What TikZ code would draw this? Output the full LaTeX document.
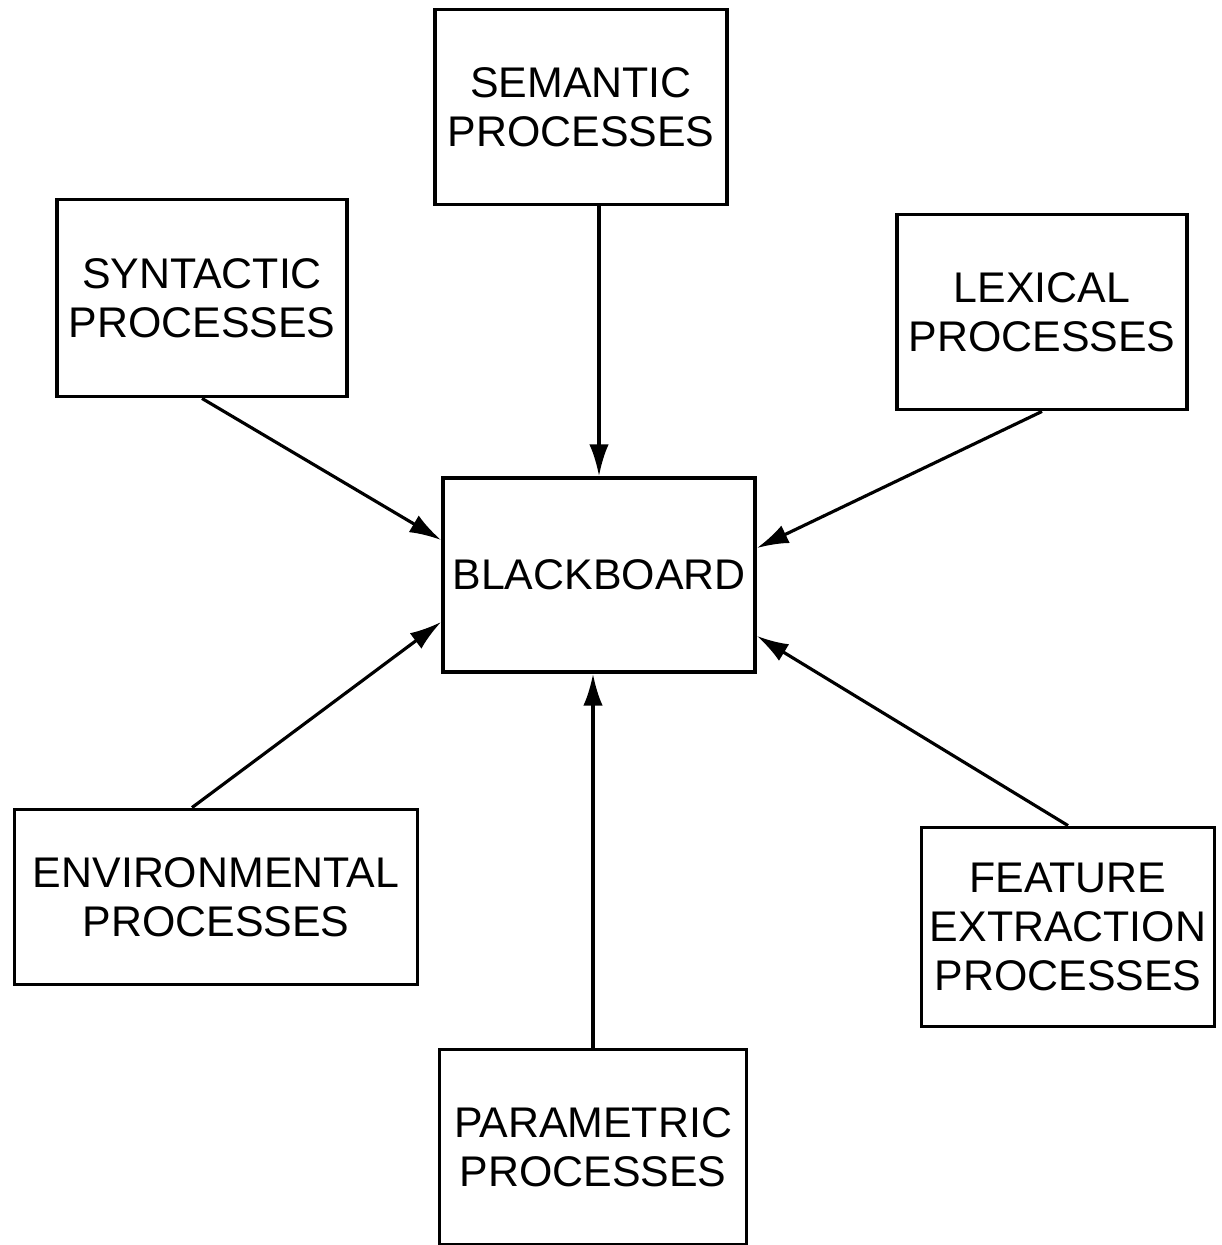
\documentclass[tikz,border=0pt]{standalone}
\usepackage{fontspec}
\setmainfont{Liberation Sans}
\usetikzlibrary{arrows.meta}
\tikzset{
  proc/.style = {
    draw, line width=1.1pt, align=center, inner sep=0pt,
    font=\fontsize{12.2}{14}\selectfont
  },
  feed/.style = {line width=0.9pt, -{Latex[length=9pt,width=5.5pt]}}
}

\begin{document}
\begin{tikzpicture}
  \useasboundingbox (0,0) rectangle (12.21,-12.45);
  % the boxes
  \node[proc, minimum width=2.92cm, minimum height=1.95cm] (sem) at (5.81,-1.07) {SEMANTIC\\PROCESSES};
  \node[proc, minimum width=2.90cm, minimum height=1.97cm] (syn) at (2.02,-2.98) {SYNTACTIC\\PROCESSES};
  \node[proc, minimum width=2.90cm, minimum height=1.95cm] (lex) at (10.42,-3.12) {LEXICAL\\PROCESSES};
  \node[proc, minimum width=3.12cm, minimum height=1.94cm] (bb) at (5.99,-5.75) {BLACKBOARD};
  \node[proc, minimum width=4.03cm, minimum height=1.75cm] (env) at (2.16,-8.97) {ENVIRONMENTAL\\PROCESSES};
  \node[proc, minimum width=2.93cm, minimum height=1.99cm] (feat) at (10.68,-9.27) {FEATURE\\EXTRACTION\\PROCESSES};
  \node[proc, minimum width=3.07cm, minimum height=1.95cm] (par) at (5.93,-11.47) {PARAMETRIC\\PROCESSES};
  % everything feeds the blackboard
  \draw[feed] (sem.south -| bb.north) -- (bb.north);
  \draw[feed] (syn.south) -- ([yshift=0.35cm]bb.west);
  \draw[feed] (lex.south) -- ([yshift=0.27cm]bb.east);
  \draw[feed] ([xshift=-0.24cm]env.north) -- ([yshift=-0.47cm]bb.west);
  \draw[feed] (feat.north) -- ([yshift=-0.61cm]bb.east);
  \draw[feed] (par.north) -- (par.north |- bb.south);
\end{tikzpicture}
\end{document}
